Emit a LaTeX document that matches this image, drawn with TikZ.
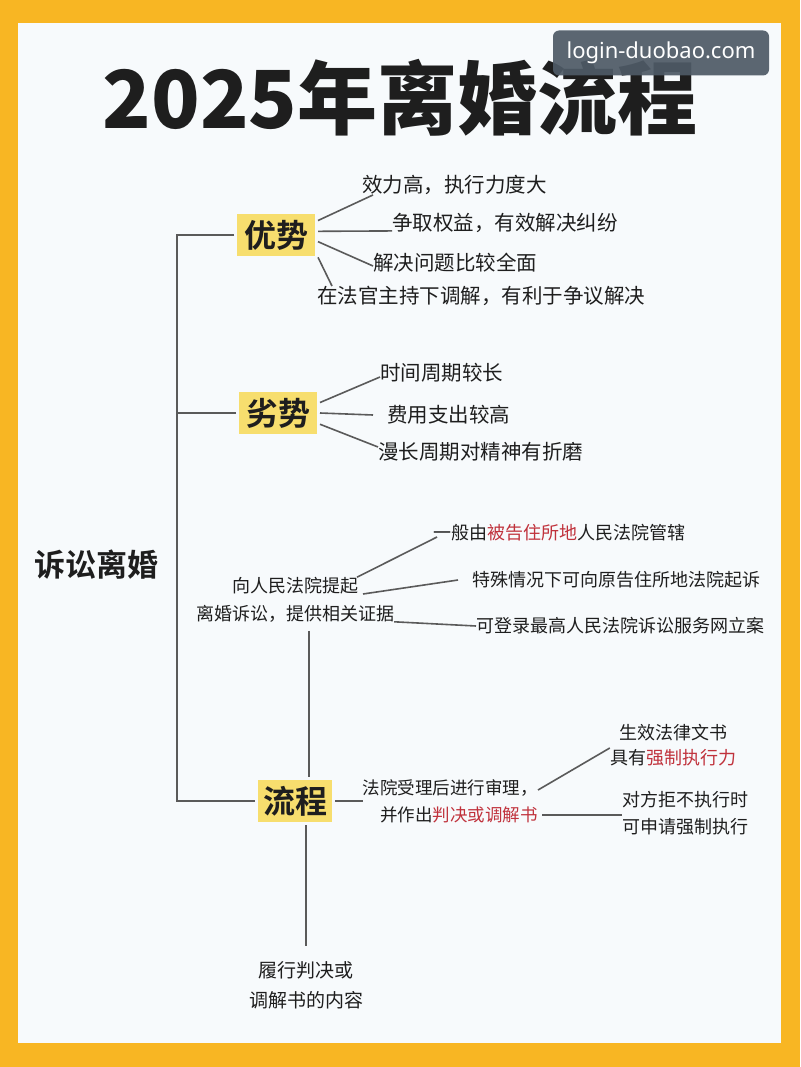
\documentclass[tikz,border=0pt]{standalone}
\usepackage{fontspec}
\newfontfamily\cjk{Noto Sans CJK SC}
\newfontfamily\cjkbold{Noto Sans CJK SC Bold}
\newfontfamily\cjkblack{Noto Sans CJK SC Black}
\newfontfamily\wmfont{Noto Sans}
\usepackage{xcolor}
\definecolor{ddframe}{HTML}{F8B623}
\definecolor{ddpanel}{HTML}{F7FAFC}
\definecolor{ddbox}{HTML}{F7DE6E}
\definecolor{ddline}{HTML}{5A5A5A}
\definecolor{ddtext}{HTML}{1E1E1E}
\definecolor{ddred}{HTML}{C0323C}
\definecolor{ddmark}{HTML}{4E5A66}
\usetikzlibrary{positioning, calc}
\newcommand{\redtxt}[1]{\textcolor{ddred}{#1}}

\begin{document}
\begin{tikzpicture}[
  x=1pt, y=-1pt,
  topic/.style={rectangle, fill=ddbox, inner sep=0pt, outer sep=3pt,
    minimum width=78pt, minimum height=42pt,
    text=ddtext, font=\fontsize{32}{32}\cjkbold},
  leaf/.style={anchor=west, inner sep=0pt, text=ddtext,
    font=\fontsize{20.5}{24}\cjk},
  small/.style={inner sep=0pt, text=ddtext, align=center,
    font=\fontsize{18}{28}\cjk},
  branch/.style={draw=ddline, line width=1.6pt},
  wmark/.style={rectangle, rounded corners=6pt, fill=ddmark,
    fill opacity=0.92, text opacity=1, text=white,
    minimum width=216pt, minimum height=45pt,
    font=\fontsize{22}{22}\wmfont}
]
  \fill[ddframe] (0,0) rectangle (800,1067);
  \fill[ddpanel] (18,23) rectangle (781,1043);
  \useasboundingbox (0,0) rectangle (800,1067);

  \node[text=ddtext, font=\fontsize{80}{80}\cjkblack] (title) at (400,98)
    {2025年离婚流程};
  \node[wmark] (wm) at (661,53) {login-duobao.com};

  \node[text=ddtext, font=\fontsize{31}{31}\cjkbold] (root) at (96,565)
    {诉讼离婚};

  \node[topic] (adv) at (276,235) {优势};
  \node[topic] (dis) at (278,413) {劣势};
  \node[topic, minimum width=74pt] (proc) at (295,801) {流程};

  \coordinate (trunk) at (177,0);
  \draw[branch] (adv.west) -- (adv.west -| trunk) -- (proc.west -| trunk)
    -- (proc.west);
  \draw[branch] (dis.west) -- (dis.west -| trunk);

  \node[leaf] (a1) at (362,185) {效力高，执行力度大};
  \node[leaf] (a2) at (392,223) {争取权益，有效解决纠纷};
  \node[leaf] (a3) at (373,263) {解决问题比较全面};
  \node[leaf] (a4) at (317,296) {在法官主持下调解，有利于争议解决};
  \draw[branch] (adv.19) -- ([xshift=11pt]a1.south west);
  \draw[branch] (adv.5) -- ([yshift=2pt]a2.south west);
  \draw[branch] (adv.-9) -- ([yshift=-3pt]a3.west);
  \draw[branch] (adv.-28) -- ([xshift=15pt]a4.north west);

  \node[leaf] (d1) at (380,373) {时间周期较长};
  \node[leaf] (d2) at (387,415) {费用支出较高};
  \node[leaf] (d3) at (378,452) {漫长周期对精神有折磨};
  \draw[branch] (dis.14) -- ([yshift=-4pt]d1.west);
  \draw[branch] (dis.east) -- ([xshift=-14pt]d2.west);
  \draw[branch] (dis.-15) -- ([yshift=5pt]d3.west);

  \node[small] (file) at (295,600) {向人民法院提起\\离婚诉讼，提供相关证据};
  \node[leaf, font=\fontsize{18}{24}\cjk] (f1) at (433,533)
    {一般由\redtxt{被告住所地}人民法院管辖};
  \node[leaf, font=\fontsize{18}{24}\cjk] (f2) at (472,580)
    {特殊情况下可向原告住所地法院起诉};
  \node[leaf, font=\fontsize{18}{24}\cjk] (f3) at (476,626)
    {可登录最高人民法院诉讼服务网立案};
  \draw[branch] ([xshift=62pt]file.north) -- ([shift={(4pt,-4pt)}]f1.west);
  \draw[branch] ([shift={(68pt,6pt)}]file.center) -- ([xshift=-14pt]f2.west);
  \draw[branch] ([yshift=1pt]file.south east) -- (f3.west);
  \draw[branch] ([xshift=14pt,yshift=-8pt]file.south) -- ([xshift=14pt]proc.north);

  \node[small, align=right, anchor=east, font=\fontsize{17.5}{27}\cjk] (judge)
    at (538,801) {法院受理后进行审理，\\并作出\redtxt{判决或调解书}};
  \draw[branch] (proc.east) -- (judge.west);

  \node[small, font=\fontsize{18}{25}\cjk] (j1) at (673,745)
    {生效法律文书\\具有\redtxt{强制执行力}};
  \node[small, font=\fontsize{18}{27}\cjk] (j2) at (685,813)
    {对方拒不执行时\\可申请强制执行};
  \draw[branch] ([yshift=11pt]judge.east) -- ([yshift=-3pt]j1.west);
  \draw[branch] ([shift={(4pt,-14pt)}]judge.east) -- ([yshift=-2pt]j2.west);

  \node[small, font=\fontsize{19}{30}\cjk] (perform) at (306,985)
    {履行判决或\\调解书的内容};
  \draw[branch] ([xshift=11pt]proc.south) -- ([yshift=15pt]perform.north);
\end{tikzpicture}
\end{document}
